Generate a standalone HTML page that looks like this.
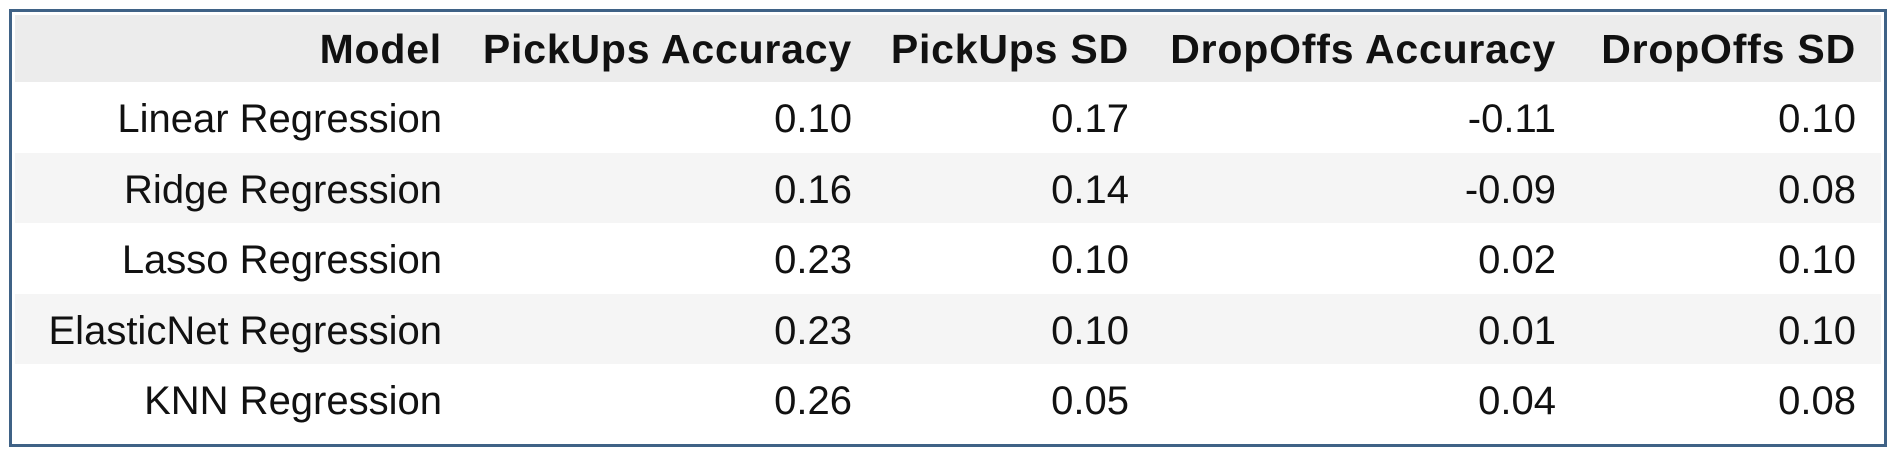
<!DOCTYPE html>
<html><head><meta charset="utf-8"><style>
body{margin:0;width:1900px;height:456px;background:#fff;font-family:"Liberation Sans",sans-serif;overflow:hidden;position:relative}
#frame{position:absolute;left:9px;top:9px;width:1878px;height:438px;border:3px solid #3f6286;box-sizing:border-box}
.band{position:absolute;left:15px;width:1866px}
.c{position:absolute;white-space:nowrap;text-align:right;color:#111;line-height:1}
.h{font-weight:bold;font-size:41px;letter-spacing:0.8px}
.b{font-size:40px}
</style></head><body>
<div id="frame"></div>
<div id="t"></div>
<script>
const headers=["Model","PickUps Accuracy","PickUps SD","DropOffs Accuracy","DropOffs SD"];
const models=["Linear Regression","Ridge Regression","Lasso Regression","ElasticNet Regression","KNN Regression"];
const pickAcc=["0.10","0.16","0.23","0.23","0.26"];
const pickSD=["0.17","0.14","0.10","0.10","0.05"];
const dropAcc=["-0.11","-0.09","0.02","0.01","0.04"];
const dropSD=["0.10","0.08","0.10","0.10","0.08"];
const rights=[442,852,1129,1556,1856];
const t=document.getElementById('t');
const hb=document.createElement('div');hb.className='band';hb.style.top='15px';hb.style.height='67px';hb.style.background='#ececec';


t.appendChild(hb);
function cell(txt,right,cy,cls,name){const d=document.createElement('div');d.className='c '+cls;d.textContent=txt;
d.style.right=(1900-right)+'px';d.style.top=(cy-20)+'px';


t.appendChild(d);}
headers.forEach((h,i)=>cell(h,rights[i],49,'h','header-'+i));
const cols=[models,pickAcc,pickSD,dropAcc,dropSD];
for(let r=0;r<models.length;r++){
  const top=82+r*70.6;
  if(r%2==1){const b=document.createElement('div');b.className='band';b.style.top=top+'px';b.style.height='70.6px';b.style.background='#f5f5f5';
  
  
  t.appendChild(b);}
}
for(let r=0;r<models.length;r++){
  const cy=82+r*70.6+37;
  cols.forEach((c,i)=>cell(c[r],rights[i],cy,'b','cell-'+r+'-'+i));
}
</script>
</body></html>
